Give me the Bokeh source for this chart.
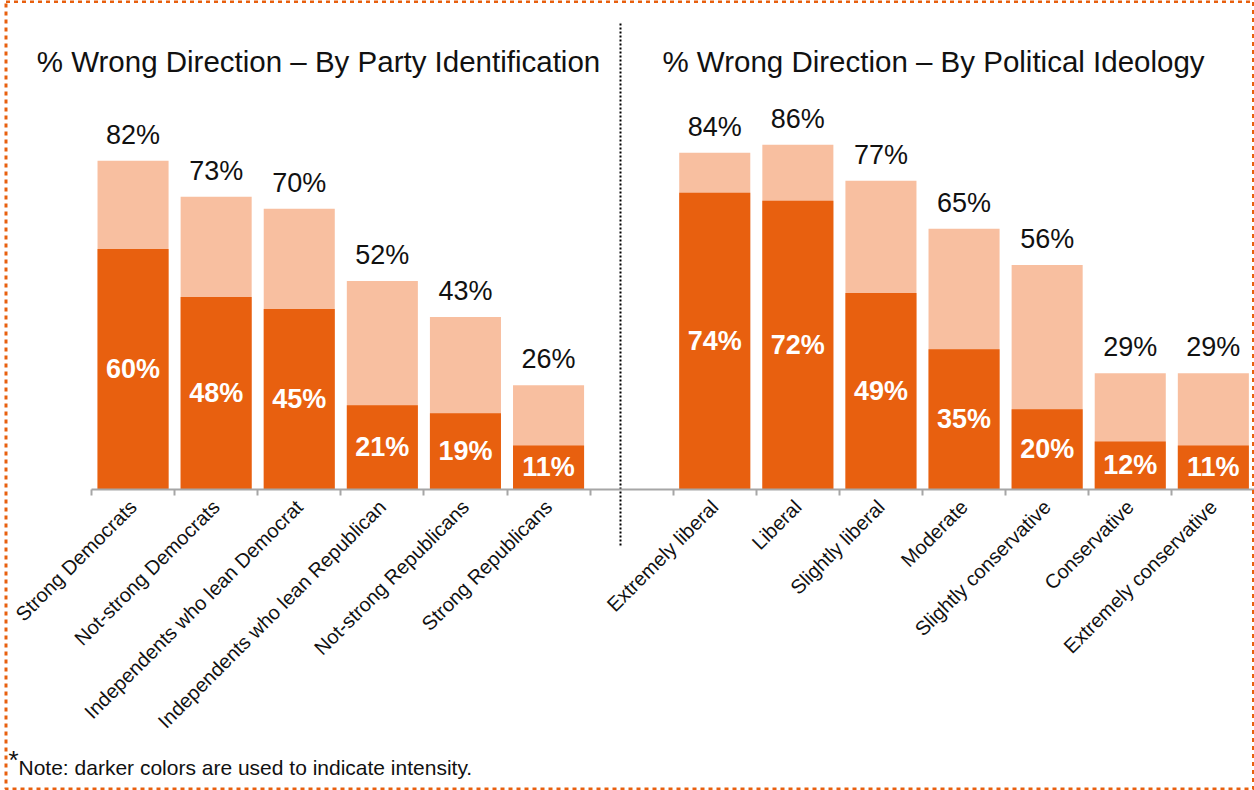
from math import pi
from bokeh.plotting import figure
from bokeh.models import Range1d, LinearAxis, FixedTicker, BoxAnnotation, ColumnDataSource
from bokeh.core.properties import value
from bokeh.embed import file_html
from bokeh.resources import INLINE

# ---------------- data ----------------
party_labels = ["Strong Democrats", "Not-strong Democrats", "Independents who lean Democrat",
                "Independents who lean Republican", "Not-strong Republicans", "Strong Republicans"]
party_total = [82, 73, 70, 52, 43, 26]
party_strong = [60, 48, 45, 21, 19, 11]

ideology_labels = ["Extremely liberal", "Liberal", "Slightly liberal", "Moderate",
                   "Slightly conservative", "Conservative", "Extremely conservative"]
ideology_total = [84, 86, 77, 65, 56, 29, 29]
ideology_strong = [74, 72, 49, 35, 20, 12, 11]

title_left = "% Wrong Direction \u2013 By Party Identification"
title_right = "% Wrong Direction \u2013 By Political Ideology"
note_star = "*"
note_text = "Note: darker colors are used to indicate intensity."

# ---------------- layout / style ----------------
FONT = "Liberation Sans"
DARK = "#E8600F"
LIGHT = "#F8BFA0"
TXT = "#111111"
AXIS_C = "#A6A6A6"

W, H = 1254, 790
SLOT = 83.1          # px per category slot
PXP = 4.01           # px per percent
X0 = 91              # canvas x of first slot boundary
Y0 = 489             # canvas y of the baseline

def dx(px):
    return (px - X0) / SLOT

def dy(py):
    return (Y0 - py) / PXP

party_x = [i + 0.5 for i in range(len(party_labels))]
ideo_x = [len(party_labels) + 1 + i + 0.5 for i in range(len(ideology_labels))]
n_slots = len(party_labels) + 1 + len(ideology_labels)

xs = party_x + ideo_x
totals = party_total + ideology_total
strongs = party_strong + ideology_strong
src = ColumnDataSource(dict(
    x=xs, total=totals, strong=strongs,
    top_lbl_y=[t + 26 / PXP for t in totals],
    mid=[s / 2 for s in strongs],
    total_lbl=[f"{v}%" for v in totals],
    strong_lbl=[f"{v}%" for v in strongs],
))

p = figure(width=W, height=H, output_backend="svg", toolbar_location=None,
           x_range=Range1d(dx(0), dx(W)), y_range=Range1d(dy(H), dy(0)),
           x_axis_location=None, y_axis_location=None,
           min_border=0)
p.grid.visible = False
p.outline_line_color = None
p.background_fill_color = "white"
p.border_fill_color = "white"

BW = 0.855
p.vbar(x="x", width=BW, top="total", bottom=0, source=src,
       fill_color=LIGHT, line_color=None)
p.vbar(x="x", width=BW, top="strong", bottom=0, source=src,
       fill_color=DARK, line_color=None)

p.text(x="x", y="top_lbl_y", text="total_lbl", source=src,
       text_align="center", text_baseline="middle",
       text_font=value(FONT), text_font_size="27px", text_color=TXT)
p.text(x="x", y="mid", text="strong_lbl", source=src,
       text_align="center", text_baseline="middle",
       text_font=value(FONT), text_font_size="27px", text_font_style="bold",
       text_color="white")

# panel titles
p.text(x=[dx(318), dx(933)], y=[dy(61)] * 2, text=[title_left, title_right],
       text_align="center", text_baseline="middle",
       text_font=value(FONT), text_font_size="29.5px", text_color=TXT)

# x axis: labels at bar centres, ticks at slot boundaries
xaxis = LinearAxis(ticker=FixedTicker(ticks=xs, minor_ticks=list(range(0, n_slots + 1))),
                   fixed_location=0, bounds=(0, n_slots))
xaxis.major_label_overrides = {x: lbl for x, lbl in zip(xs, party_labels + ideology_labels)}
xaxis.major_tick_in = 0
xaxis.major_tick_out = 0
xaxis.minor_tick_in = 0
xaxis.minor_tick_out = 6
xaxis.minor_tick_line_color = AXIS_C
xaxis.minor_tick_line_width = 2
xaxis.axis_line_color = AXIS_C
xaxis.axis_line_width = 2
xaxis.major_label_orientation = pi / 4
xaxis.major_label_standoff = 8
xaxis.major_label_text_font = FONT
xaxis.major_label_text_font_size = "20px"
xaxis.major_label_text_color = TXT
p.add_layout(xaxis, "below")

# dotted divider between the two panels
p.segment(x0=[dx(620)], y0=[dy(23)], x1=[dx(620)], y1=[dy(545)],
          line_color="black", line_width=2, line_dash="2 2")

# dashed orange frame around the whole graphic
p.add_layout(BoxAnnotation(left=5.5, right=1253, top=1, bottom=788.5,
                           left_units="canvas", right_units="canvas",
                           top_units="canvas", bottom_units="canvas",
                           fill_alpha=0, line_color=DARK, line_alpha=1.0,
                           line_width=3, line_dash="4 4", level="overlay"))

# footnote
p.text(x=[dx(8)], y=[dy(759)], text=[note_star], text_align="left",
       text_baseline="middle", text_font=value(FONT), text_font_size="26px",
       text_color=TXT)
p.text(x=[dx(18)], y=[dy(766.5)], text=[note_text], text_align="left",
       text_baseline="middle", text_font=value(FONT), text_font_size="21px",
       text_color=TXT)

open("out.html", "w").write(file_html(p, INLINE))
